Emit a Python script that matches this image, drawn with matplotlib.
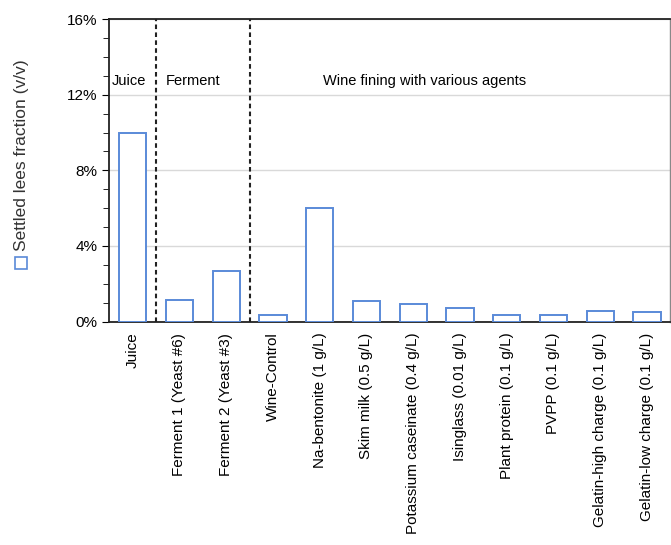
import numpy as np
import matplotlib
matplotlib.use('Agg')
import matplotlib.pyplot as plt
from matplotlib.lines import Line2D
from matplotlib.ticker import MultipleLocator, PercentFormatter

plt.rcParams['font.family'] = ['Liberation Sans', 'DejaVu Sans']

# 数据
categories = ['Juice', 'Ferment 1 (Yeast #6)', 'Ferment 2 (Yeast #3)', 'Wine-Control',
              'Na-bentonite (1 g/L)', 'Skim milk (0.5 g/L)', 'Potassium caseinate (0.4 g/L)',
              'Isinglass (0.01 g/L)', 'Plant protein (0.1 g/L)', 'PVPP (0.1 g/L)',
              'Gelatin-high charge (0.1 g/L)', 'Gelatin-low charge (0.1 g/L)']
lees_fraction = [10.0, 1.15, 2.7, 0.35, 6.0, 1.08, 0.92, 0.72, 0.34, 0.34, 0.55, 0.48]
group_names = ['Juice', 'Ferment', 'Wine fining with various agents']
group_label_x = [-0.08, 1.28, 6.25]
group_bounds = [0.5, 2.5]

blue = '#5a8ad8'

fig = plt.figure(figsize=(6.71, 5.45), dpi=100)
ax = fig.add_axes([0.163, 0.41, 0.836, 0.555])

x = np.arange(len(categories))
ax.bar(x, lees_fraction, width=0.58, facecolor='white', edgecolor=blue, linewidth=1.4, zorder=3)

# 分组分隔线与标签
for b in group_bounds:
    ax.axvline(b, color='#222222', linestyle=(0, (2.2, 1.6)), linewidth=1.5, zorder=4)
for name, gx in zip(group_names, group_label_x):
    ax.text(gx, 12.7, name, ha='center', va='center', fontsize=10.5)

ax.set_xlim(-0.5, len(categories) - 0.5)
ax.set_ylim(0, 16)
ax.yaxis.set_major_locator(MultipleLocator(4))
ax.yaxis.set_minor_locator(MultipleLocator(1))
ax.yaxis.set_major_formatter(PercentFormatter(decimals=0))
ax.grid(axis='y', color='#d9d9d9', linewidth=1.0, zorder=0)

ax.set_xticks(x)
ax.set_xticklabels(categories, rotation=90, fontsize=11)
ax.tick_params(axis='x', length=0, pad=8)
ax.tick_params(axis='y', which='major', length=5, direction='out', labelsize=11)
ax.tick_params(axis='y', which='minor', length=4, direction='out')

for side in ['left', 'bottom', 'top']:
    ax.spines[side].set_color('#222222')
    ax.spines[side].set_linewidth(1.3)
ax.spines['right'].set_color('#888888')
ax.spines['right'].set_linewidth(1.0)

# 纵轴标题与图例方块
fig.text(0.032, 0.716, 'Settled lees fraction (v/v)', rotation=90, ha='center', va='center',
         fontsize=12.5, color='#333333')
fig.add_artist(Line2D([0.032], [0.517], marker='s', markersize=8, markerfacecolor='white',
                      markeredgecolor=blue, markeredgewidth=1.2, transform=fig.transFigure))

plt.savefig('out.png', dpi=100)
